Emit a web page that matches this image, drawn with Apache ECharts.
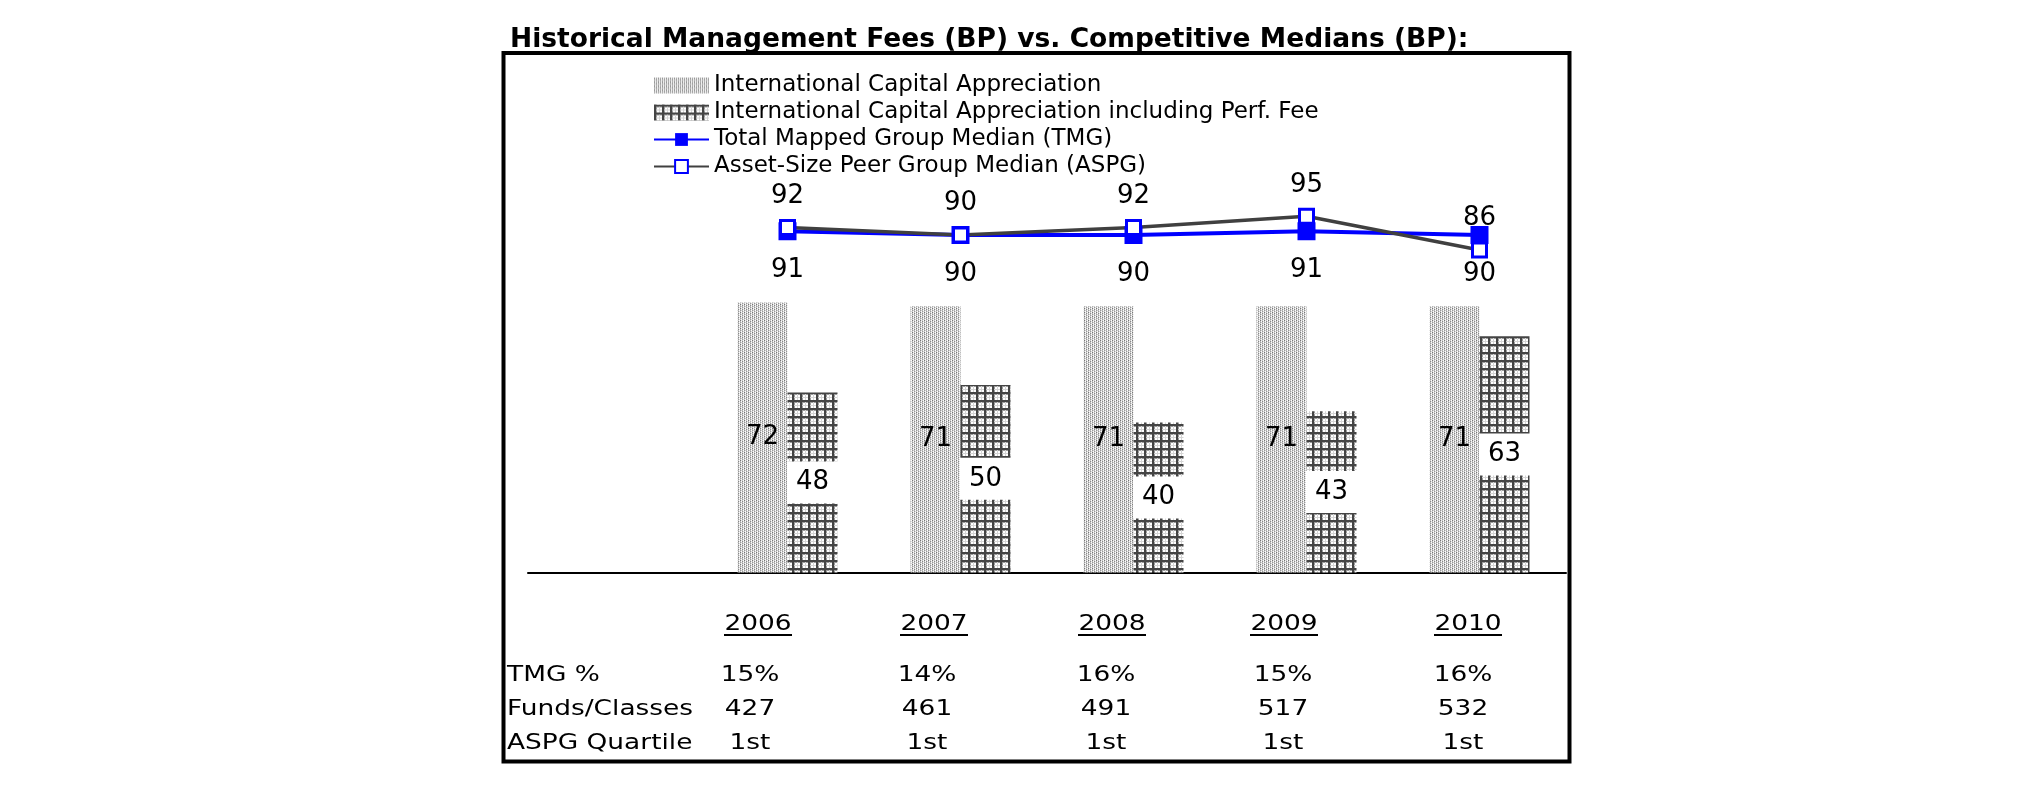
<!DOCTYPE html>
<html>
<head>
<meta charset="utf-8">
<script src="https://cdn.jsdelivr.net/npm/echarts@6/dist/echarts.min.js"></script>
<style>
html,body{margin:0;padding:0;background:#fff;}
#chart{width:2025px;height:806px;}
</style>
</head>
<body>
<div id="chart"></div>
<script>
// ---- data ----
const categories = ['', '2006', '2007', '2008', '2009', '2010'];
const icaFees = [null, 72, 71, 71, 71, 71];
const icaPerfFees = [null, 48, 50, 40, 43, 63];
const tmgMedian = [null, 91, 90, 90, 91, 90];
const aspgMedian = [null, 92, 90, 92, 95, 86];
const tableYears = ['2006', '2007', '2008', '2009', '2010'];
const rowLabels = ['TMG %', 'Funds/Classes', 'ASPG Quartile'];
const tmgPct = ['15%', '14%', '16%', '15%', '16%'];
const fundsClasses = ['427', '461', '491', '517', '532'];
const aspgQuartile = ['1st', '1st', '1st', '1st', '1st'];
const seriesNames = [
  'International Capital Appreciation',
  'International Capital Appreciation including Perf. Fee',
  'Total Mapped Group Median (TMG)',
  'Asset-Size Peer Group Median (ASPG)'
];
const titleText = 'Historical Management Fees (BP) vs. Competitive Medians (BP):';

// ---- layout ----
const FONT = '"DejaVu Sans", Verdana, sans-serif';
const yearCenters = [758, 934, 1112, 1284, 1468];
const valueCenters = [750, 927, 1106, 1283, 1463];
const yearY = 624.5, underlineY = 635;
const rowYs = [675, 709, 743];
const rowLabelX = 507;

function makePattern(w, h, draw) {
  const c = document.createElement('canvas');
  c.width = w; c.height = h;
  const g = c.getContext('2d');
  g.fillStyle = '#fff';
  g.fillRect(0, 0, w, h);
  draw(g);
  return { image: c, repeat: 'repeat' };
}
const dottedPattern = makePattern(4, 4, g => {
  const px = (x, y, c) => { g.fillStyle = c; g.fillRect(x, y, 1, 1); };
  px(0, 0, '#777'); px(0, 1, '#bbb'); px(0, 2, '#999'); px(0, 3, '#ccc');
  px(2, 0, '#ccc'); px(2, 1, '#888'); px(2, 2, '#bbb'); px(2, 3, '#999');
  px(1, 0, '#e0e0e0'); px(1, 2, '#d0d0d0'); px(3, 1, '#e0e0e0'); px(3, 3, '#d8d8d8');
});
const gridPattern = makePattern(8, 8, g => {
  g.fillStyle = '#999'; g.fillRect(0, 2, 8, 1); g.fillRect(2, 0, 1, 8);
  g.fillStyle = '#d4d4d4'; g.fillRect(0, 5, 8, 1); g.fillRect(5, 0, 1, 8);
  g.fillStyle = '#444'; g.fillRect(0, 0, 8, 2); g.fillRect(0, 0, 2, 8);
});

const graphics = [];
graphics.push({
  type: 'rect', z: 10,
  shape: { x: 503.5, y: 53, width: 1066, height: 708.5 },
  style: { fill: 'none', stroke: '#000', lineWidth: 4 }
});
graphics.push({
  type: 'text', x: 510, y: 40.5,
  style: { text: titleText, font: 'bold 26.5px ' + FONT, fill: '#000',
    align: 'left', verticalAlign: 'middle', textAlign: 'left', textVerticalAlign: 'middle' }
});
function tableText(txt, x, y, align) {
  return {
    type: 'text', x: x, y: y, scaleX: 1.2,
    style: { text: txt, font: '22px ' + FONT, fill: '#000',
      align: align, verticalAlign: 'middle', textAlign: align, textVerticalAlign: 'middle' }
  };
}
tableYears.forEach((yr, i) => {
  graphics.push(tableText(yr, yearCenters[i], yearY, 'center'));
  graphics.push({
    type: 'line',
    shape: { x1: yearCenters[i] - 34, y1: underlineY, x2: yearCenters[i] + 34, y2: underlineY },
    style: { stroke: '#000', lineWidth: 2 }
  });
});
rowLabels.forEach((lab, r) => graphics.push(tableText(lab, rowLabelX, rowYs[r], 'left')));
[tmgPct, fundsClasses, aspgQuartile].forEach((row, r) => {
  row.forEach((v, i) => graphics.push(tableText(v, valueCenters[i], rowYs[r], 'center')));
});

const labelBase = { show: true, color: '#000', fontSize: 26, fontFamily: FONT };

const option = {
  animation: false,
  backgroundColor: '#fff',
  textStyle: { fontFamily: FONT },
  legend: {
    orient: 'vertical', left: 648, top: 69,
    itemWidth: 55, itemHeight: 16, itemGap: 4,
    selectedMode: false,
    textStyle: { fontSize: 23, color: '#000', fontFamily: FONT },
    data: [
      { name: seriesNames[0], icon: 'rect' },
      { name: seriesNames[1], icon: 'rect' },
      { name: seriesNames[2] },
      { name: seriesNames[3] }
    ]
  },
  grid: { left: 528, right: 459, top: 197.5, bottom: 233.5 },
  xAxis: {
    type: 'category', data: categories,
    axisLine: { lineStyle: { color: '#000', width: 2 } },
    axisTick: { show: false }, axisLabel: { show: false }, splitLine: { show: false }
  },
  yAxis: { type: 'value', min: 0, max: 100, show: false },
  series: [
    {
      name: seriesNames[0], type: 'bar', data: icaFees,
      barWidth: 50, barGap: '0%',
      itemStyle: { color: dottedPattern },
      label: Object.assign({}, labelBase, { position: 'inside' })
    },
    {
      name: seriesNames[1], type: 'bar', data: icaPerfFees,
      barWidth: 50, barGap: '0%',
      itemStyle: { color: gridPattern },
      label: Object.assign({}, labelBase, { position: 'inside', backgroundColor: '#fff', padding: [8, 9] })
    },
    {
      name: seriesNames[2], type: 'line', data: tmgMedian,
      symbol: 'rect', symbolSize: 18,
      lineStyle: { color: '#0000ff', width: 4 },
      itemStyle: { color: '#0000ff' },
      label: Object.assign({}, labelBase, { position: 'bottom', distance: 17 })
    },
    {
      name: seriesNames[3], type: 'line', data: aspgMedian,
      symbol: 'rect', symbolSize: 14,
      lineStyle: { color: '#404040', width: 3.5 },
      itemStyle: { color: '#fff', borderColor: '#0000ff', borderWidth: 3 },
      label: Object.assign({}, labelBase, { position: 'top', distance: 10 })
    }
  ],
  graphic: graphics
};

const chart = echarts.init(document.getElementById('chart'), null, { renderer: 'canvas' });
chart.setOption(option);
</script>
</body>
</html>
